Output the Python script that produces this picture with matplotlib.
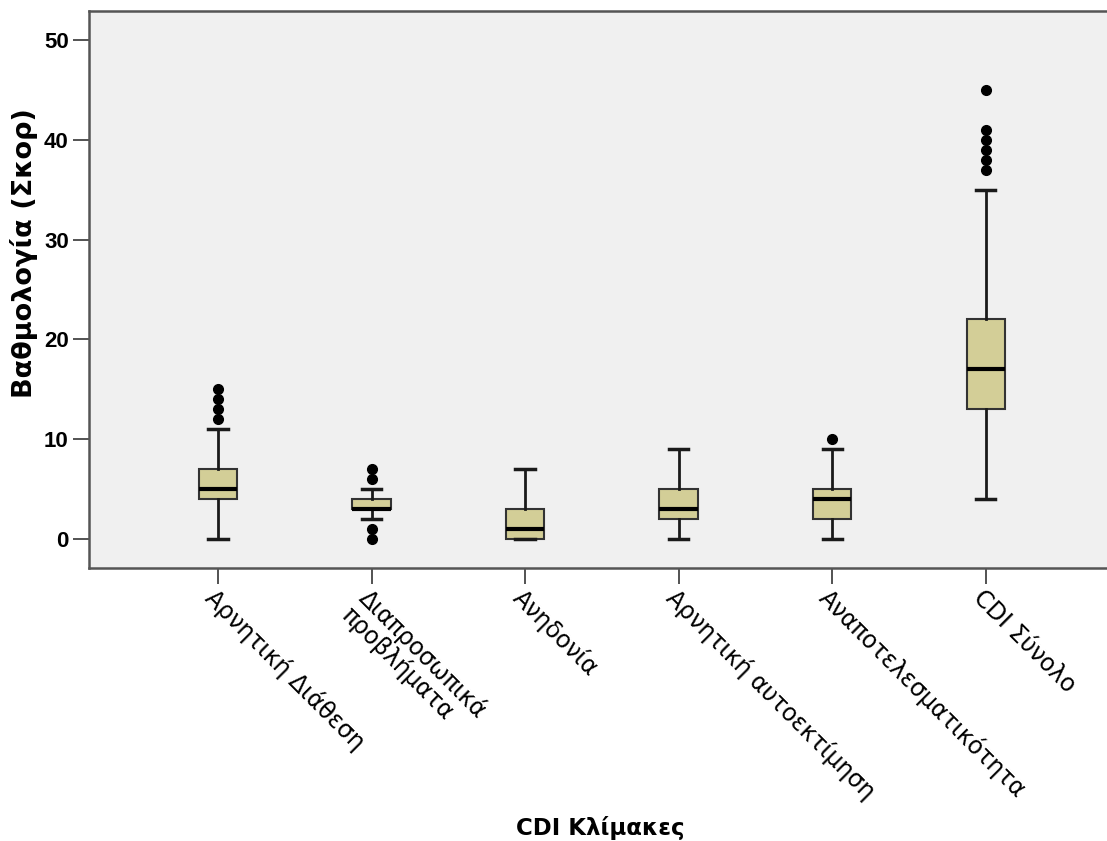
import matplotlib.pyplot as plt

plt.rcParams["font.family"] = ["Liberation Sans", "DejaVu Sans"]

# CDI subscale score summaries (quartiles, whisker ends, outliers)
labels = [
    "Αρνητική Διάθεση",
    "Διαπροσωπικά\nπροβλήματα",
    "Ανηδονία",
    "Αρνητική αυτοεκτίμηση",
    "Αναποτελεσματικότητα",
    "CDI Σύνολο",
]
q1 = [4, 3, 0, 2, 2, 13]
med = [5, 3, 1, 3, 4, 17]
q3 = [7, 4, 3, 5, 5, 22]
whislo = [0, 2, 0, 0, 0, 4]
whishi = [11, 5, 7, 9, 9, 35]
fliers = [
    [12, 13, 14, 15],
    [0, 1, 6, 7],
    [],
    [],
    [10],
    [37, 38, 39, 40, 41, 45],
]

stats = []
for i in range(len(labels)):
    stats.append(
        {
            "label": labels[i],
            "q1": q1[i],
            "med": med[i],
            "q3": q3[i],
            "whislo": whislo[i],
            "whishi": whishi[i],
            "fliers": fliers[i],
        }
    )

fig = plt.figure(figsize=(11.07, 8.41), dpi=100)
ax = fig.add_axes([89 / 1107, 1 - 568 / 841, 1 - 89 / 1107, (568 - 11) / 841])
ax.set_facecolor("#f0f0f0")

pos = list(range(1, len(labels) + 1))
ax.bxp(
    stats,
    positions=pos,
    widths=0.25,
    capwidths=0.125,
    patch_artist=True,
    boxprops=dict(facecolor="#d3ce97", edgecolor="#333333", linewidth=1.5),
    medianprops=dict(color="black", linewidth=3),
    whiskerprops=dict(color="#1a1a1a", linewidth=2),
    capprops=dict(color="#1a1a1a", linewidth=2.5),
    flierprops=dict(
        marker="o",
        markerfacecolor="black",
        markeredgecolor="black",
        markersize=7,
        linestyle="none",
    ),
)

ax.set_xlim(0.16, 6.79)
ax.set_ylim(-2.9, 52.9)
ax.set_yticks([0, 10, 20, 30, 40, 50])
ax.set_xticks(pos)
ax.set_xticklabels(
    labels, rotation=-45, ha="left", va="top", rotation_mode="anchor",
    fontsize=17, family="DejaVu Sans", linespacing=0.95,
)
for t in ax.get_yticklabels():
    t.set_fontweight("bold")
    t.set_fontsize(16)

ax.tick_params(axis="both", length=11.5, width=1.3, color="#444444", pad=3)
ax.tick_params(axis="x", pad=1)
for side in ["left", "bottom", "top"]:
    ax.spines[side].set_color("#555555")
    ax.spines[side].set_linewidth(1.8)
ax.spines["right"].set_visible(False)

fig.text(24 / 1107, 1 - 253 / 841, "Βαθμολογία (Σκορ)", fontsize=19.5,
         fontweight="bold", family="DejaVu Sans", rotation=90,
         ha="center", va="center")
fig.text(600 / 1107, 1 - 828 / 841, "CDI Κλίμακες", fontsize=16.5,
         fontweight="bold", family="DejaVu Sans", ha="center", va="center")

fig.savefig("out.png", dpi=100, facecolor="white")
